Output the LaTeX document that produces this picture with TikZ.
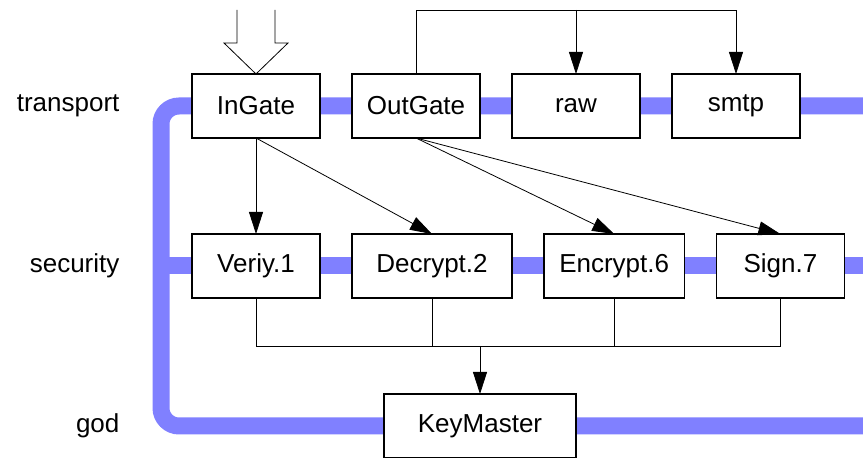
\documentclass[tikz,border=0pt]{standalone}
\usepackage{fontspec}
\setmainfont{Liberation Sans}
\usetikzlibrary{arrows.meta,positioning,backgrounds}

\begin{document}
\begin{tikzpicture}[x=0.5pt,y=-0.5pt,>={Triangle[length=11pt,width=7pt]},
                    node distance=16pt,line width=0.6pt]
  \tikzstyle{box}=[draw,fill=white,rectangle,minimum width=64pt,minimum height=32pt,
                   inner sep=0pt,outer sep=0pt,font=\fontsize{13}{15}\selectfont]
  \tikzstyle{layer}=[inner sep=0pt,font=\fontsize{13}{15}\selectfont]
  \tikzstyle{bus}=[line width=8.5pt,color=blue!50,rounded corners=9pt]

  \useasboundingbox (0,0) rectangle (863,458);

  \node[box]                          (InGate)    at (256,106)           {InGate};
  \node[box]                          (OutGate)   [right=of InGate]      {OutGate};
  \node[box]                          (raw)       [right=of OutGate]     {raw};
  \node[box]                          (smtp)      [right=of raw]         {smtp};
  \node[box]                          (Verify)    [below=48pt of InGate] {Veriy.1};
  \node[box] [minimum width=80pt]     (Decrypt)   [right=of Verify]      {Decrypt.2};
  \node[box] [minimum width=70.2pt]   (Encrypt)   [right=of Decrypt]     {Encrypt.6};
  \node[box]                          (Sign)      [right=of Encrypt]     {Sign.7};
  \node[box] [minimum width=96pt]     (KeyMaster) at (480,426)           {KeyMaster};

  \node[layer]                        (transport) [left=36pt of InGate]     {transport};
  \node[layer]                        (security)  [left=36pt of Verify]     {security};
  \node[layer]                        (god)       [left=132pt of KeyMaster] {god};

  % the three layer buses
  \coordinate (busL) at (161,0);
  \coordinate (busR) at (863,0);
  \begin{pgfonlayer}{background}
    \draw[bus] (InGate -| busR) -- (InGate -| busL) -- (KeyMaster -| busL) -- (KeyMaster -| busR);
    \draw[bus] (Verify -| busL) -- (Verify -| busR);
  \end{pgfonlayer}

  % input
  \draw (InGate.north) -- ++(-32,-31) -- ++(13,0) -- ++(0,-33)
        ++(38,0) -- ++(0,33) -- ++(13,0) -- (InGate.north);

  % output fan
  \coordinate[above=32pt of OutGate.north] (split);
  \draw[->] (OutGate.north) -- (split) -| (smtp.north);
  \draw[->] (split -| raw.north) -- (raw.north);

  \path[->] (InGate.south)  edge (Verify.north)
                            edge (Decrypt.north)
            (OutGate.south) edge (Encrypt.north)
                            edge (Sign.north);

  % security to god
  \draw (Verify.south) -- ++(0,48) coordinate (join) -| (Sign.south);
  \draw (Decrypt.south) -- (Decrypt.south |- join);
  \draw (Encrypt.south) -- (Encrypt.south |- join);
  \draw[->] (KeyMaster.north |- join) -- (KeyMaster.north);
\end{tikzpicture}
\end{document}
